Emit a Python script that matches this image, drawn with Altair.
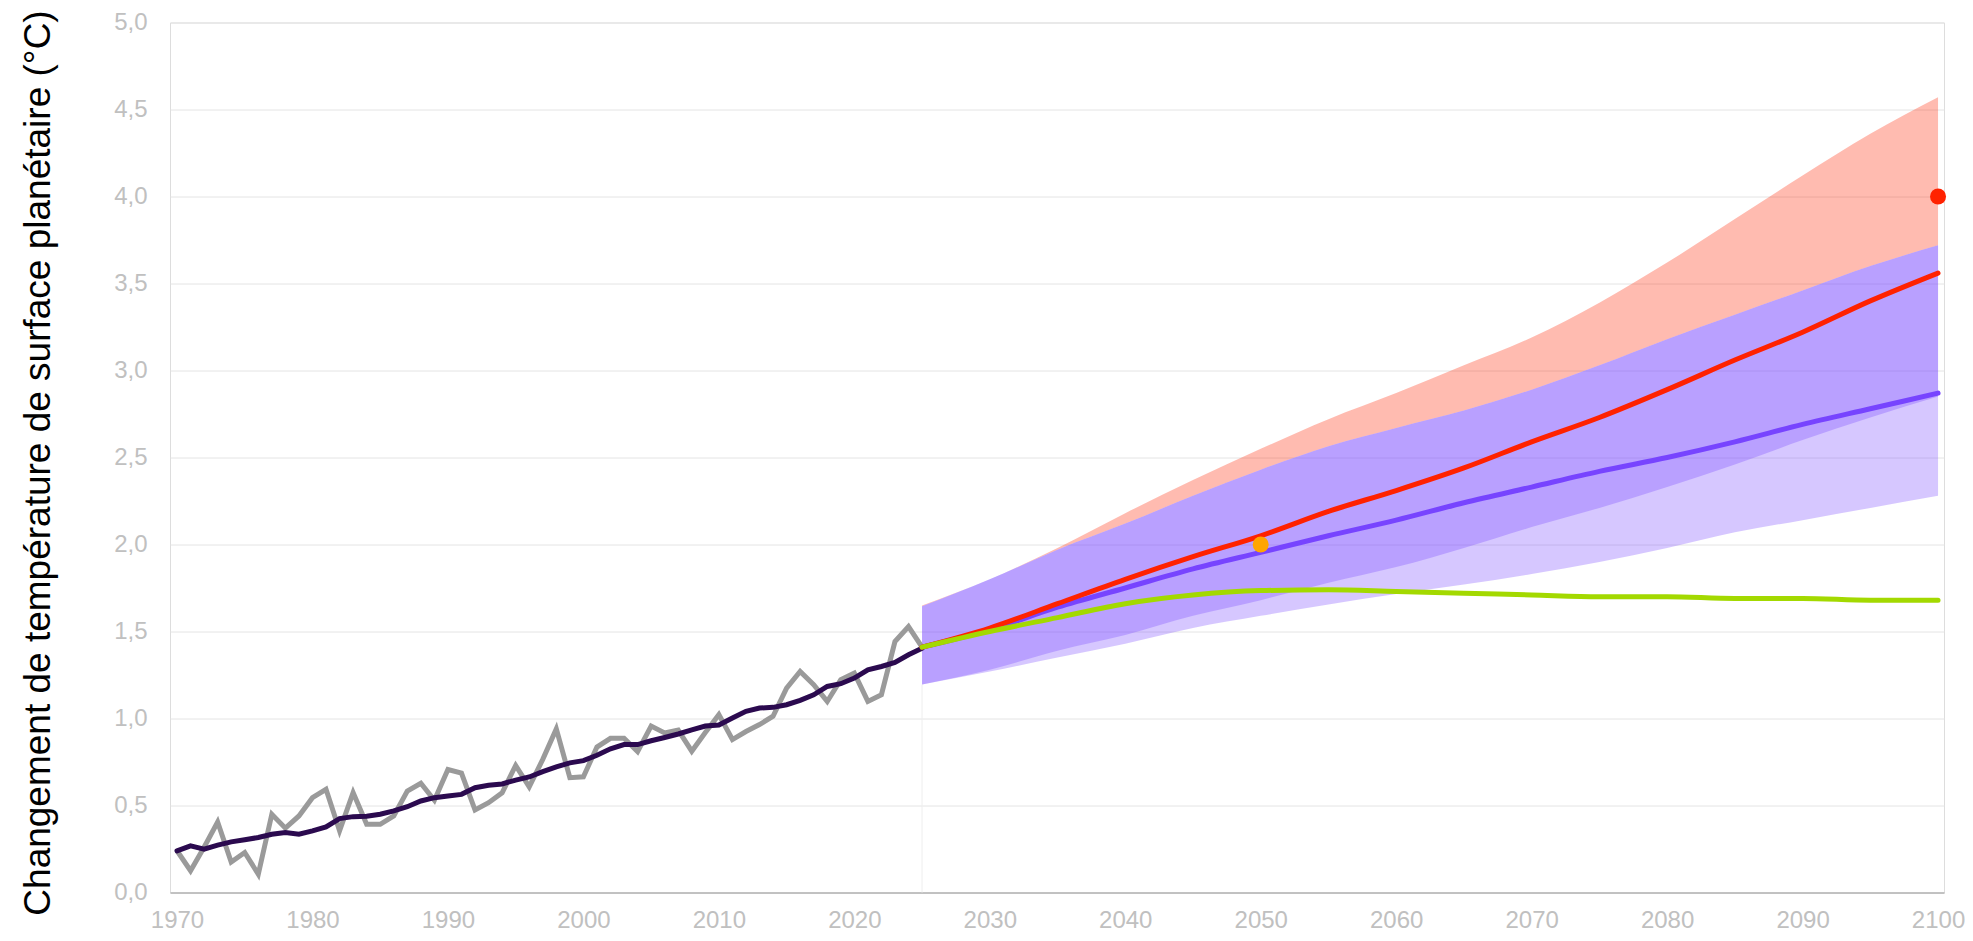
import altair as alt
import pandas as pd

# ---- historical data ----
hist_years = list(range(1970, 2026))
annual = [0.24, 0.125, 0.26, 0.405, 0.175, 0.23, 0.105, 0.45, 0.37, 0.44,
          0.545, 0.593, 0.355, 0.574, 0.392, 0.392, 0.44, 0.583, 0.628, 0.53,
          0.707, 0.686, 0.474, 0.516, 0.573, 0.73, 0.607, 0.765, 0.94, 0.66,
          0.665, 0.836, 0.886, 0.886, 0.81, 0.957, 0.917, 0.933, 0.812, 0.92,
          1.022, 0.879, 0.925, 0.965, 1.013, 1.175, 1.27, 1.194, 1.098, 1.223,
          1.261, 1.098, 1.137, 1.442, 1.528, 1.41]
smoothed = [0.239, 0.268, 0.249, 0.272, 0.291, 0.303, 0.316, 0.335, 0.345, 0.335,
            0.354, 0.377, 0.425, 0.436, 0.438, 0.45, 0.469, 0.493, 0.526, 0.545,
            0.555, 0.564, 0.602, 0.616, 0.624, 0.646, 0.664, 0.695, 0.722, 0.745,
            0.758, 0.789, 0.826, 0.85, 0.85, 0.872, 0.891, 0.911, 0.935, 0.957,
            0.963, 1.003, 1.041, 1.06, 1.064, 1.079, 1.104, 1.136, 1.184, 1.2,
            1.232, 1.28, 1.299, 1.322, 1.366, 1.404]

# ---- projections ----
proj_years = [2025, 2030, 2035, 2040, 2045, 2050, 2055, 2060, 2065, 2070,
              2075, 2080, 2085, 2090, 2095, 2100]
red_line = [1.41, 1.52, 1.66, 1.80, 1.93, 2.05, 2.19, 2.31, 2.44, 2.59,
            2.73, 2.89, 3.06, 3.22, 3.40, 3.56]
purple_line = [1.41, 1.51, 1.64, 1.75, 1.86, 1.955, 2.05, 2.14, 2.24, 2.33,
               2.42, 2.50, 2.59, 2.69, 2.78, 2.87]
green_line = [1.41, 1.50, 1.58, 1.66, 1.71, 1.735, 1.74, 1.73, 1.72, 1.71,
              1.70, 1.70, 1.69, 1.69, 1.68, 1.68]
red_hi = [1.65, 1.80, 1.98, 2.18, 2.37, 2.55, 2.72, 2.87, 3.03, 3.19,
          3.39, 3.62, 3.87, 4.12, 4.36, 4.57]
band_hi = [1.645, 1.80, 1.97, 2.12, 2.28, 2.43, 2.565, 2.67, 2.77, 2.89,
           3.03, 3.18, 3.32, 3.46, 3.60, 3.72]
band_mid_lo = [1.195, 1.28, 1.39, 1.48, 1.59, 1.68, 1.78, 1.87, 1.98, 2.10,
               2.21, 2.33, 2.46, 2.60, 2.73, 2.85]
band_lo = [1.195, 1.27, 1.35, 1.43, 1.52, 1.59, 1.655, 1.715, 1.77, 1.83,
           1.90, 1.98, 2.07, 2.14, 2.21, 2.28]

# ---- markers ----
dot_years = [2050, 2100]
dot_values = [2.0, 4.0]
dot_colors = ["#ffa500", "#ff2200"]

y_ticks = [0, 0.5, 1, 1.5, 2, 2.5, 3, 3.5, 4, 4.5, 5]
x_ticks = list(range(1970, 2101, 10))
y_title = "Changement de température de surface planétaire (°C)"

hist = pd.DataFrame({"year": hist_years, "annual": annual, "smooth": smoothed})
proj = pd.DataFrame({"year": proj_years, "red": red_line, "purple": purple_line,
                     "green": green_line, "red_hi": red_hi, "band_hi": band_hi,
                     "band_mid_lo": band_mid_lo, "band_lo": band_lo})
dots = pd.DataFrame({"year": dot_years, "value": dot_values, "color": dot_colors})
rule_df = pd.DataFrame({"year": [2025], "lo": [0.0], "hi": [band_lo[0]]})

W, H = 1774, 870

xscale = alt.Scale(domain=[1969.483, 2100.44], nice=False, zero=False)
yscale = alt.Scale(domain=[0, 5], nice=False)

x_axis = alt.Axis(values=x_ticks, format="d", grid=False, domainColor="#9a9a9a",
                  domainWidth=1, ticks=False, labelColor="#c0c0c0",
                  labelFontSize=24, labelPadding=16, labelFont="Liberation Sans")
y_axis = alt.Axis(values=y_ticks,
                  labelExpr="replace(format(datum.value, '.1f'), '.', ',')",
                  grid=True, gridColor="#e4e4e4", gridWidth=1, domain=False,
                  ticks=False, labelColor="#c0c0c0", labelFontSize=24,
                  labelPadding=23, labelFont="Liberation Sans",
                  title=y_title, titleFontSize=37, titleColor="#000000",
                  titleFontWeight="normal", titleFont="Liberation Sans",
                  titleAngle=270, titleX=-121, titleY=440,
                  titleBaseline="alphabetic", titleAlign="center")

X = alt.X("year:Q", scale=xscale, axis=x_axis, title=None)

base_h = alt.Chart(hist)
base_p = alt.Chart(proj)

rule = alt.Chart(rule_df).mark_rule(color="#eeeeee", strokeWidth=1).encode(
    x=alt.X("year:Q", scale=xscale),
    y=alt.Y("lo:Q", scale=yscale, axis=y_axis),
    y2="hi:Q")

red_band = base_p.mark_area(color="#ff2200", opacity=0.31, interpolate="monotone").encode(
    x=X, y=alt.Y("band_hi:Q", scale=yscale), y2="red_hi:Q")
purple_band_a = base_p.mark_area(color="#7744ff", opacity=0.3, interpolate="monotone").encode(
    x=X, y=alt.Y("band_lo:Q", scale=yscale), y2="band_hi:Q")
purple_band_b = base_p.mark_area(color="#7744ff", opacity=0.3, interpolate="monotone").encode(
    x=X, y=alt.Y("band_mid_lo:Q", scale=yscale), y2="band_hi:Q")

grey = base_h.mark_line(color="#9a9a9a", strokeWidth=5, strokeJoin="miter").encode(
    x=X, y=alt.Y("annual:Q", scale=yscale))
dark = base_h.mark_line(color="#2b0a4f", strokeWidth=5, strokeCap="round").encode(
    x=X, y=alt.Y("smooth:Q", scale=yscale))

purple = base_p.mark_line(color="#7744ff", strokeWidth=5, strokeCap="round",
                          interpolate="monotone").encode(
    x=X, y=alt.Y("purple:Q", scale=yscale))
red = base_p.mark_line(color="#ff2200", strokeWidth=5, strokeCap="round",
                       interpolate="monotone").encode(
    x=X, y=alt.Y("red:Q", scale=yscale))
green = base_p.mark_line(color="#a3d900", strokeWidth=5, strokeCap="round",
                         interpolate="monotone").encode(
    x=X, y=alt.Y("green:Q", scale=yscale))

points = alt.Chart(dots).mark_circle(size=255, opacity=1).encode(
    x=X, y=alt.Y("value:Q", scale=yscale),
    color=alt.Color("color:N", scale=None))

chart = alt.layer(rule, red_band, purple_band_a, purple_band_b, grey, dark,
                  purple, red, green, points).properties(
    width=W, height=H,
    autosize=alt.AutoSizeParams(type="none"),
    padding={"left": 162, "top": 14.5, "right": 21, "bottom": 40.5},
).configure_view(stroke=None).configure(font="Liberation Sans")

chart.save("out.html", embed_options={"renderer": "svg", "actions": False})
